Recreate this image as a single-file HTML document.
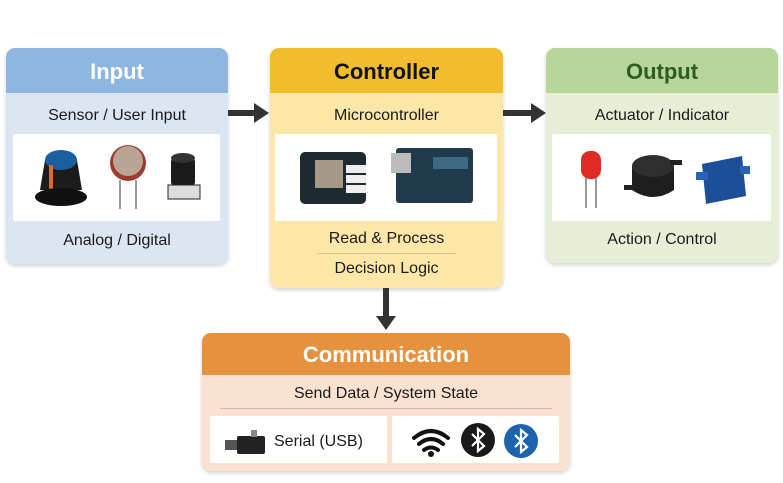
<!DOCTYPE html>
<html><head><meta charset="utf-8"><style>
body{margin:0;width:783px;height:483px;background:#fff;position:relative;overflow:hidden;font-family:"Liberation Sans","DejaVu Sans",sans-serif;color:#1a1a1a}
.box{position:absolute;border-radius:9px;overflow:hidden;box-shadow:0 2px 4px rgba(0,0,0,.18)}
.hd{position:absolute;left:0;right:0;top:0;text-align:center;font-weight:bold;font-size:22px}
.t{position:absolute;left:0;right:0;text-align:center;font-size:16px}
.w{position:absolute;background:#fff;border-radius:2px}
svg{position:absolute;left:0;top:0}
</style></head><body>
<!-- Input -->
<div class="box" style="left:6px;top:48px;width:222px;height:216px;background:#dce6f2">
 <div class="hd" style="height:45px;line-height:47px;background:#8db6e0;color:#fff">Input</div>
 <div class="t" style="top:59px">Sensor / User Input</div>
 <div class="w" style="left:7px;top:86px;width:207px;height:87px"></div>
 <div class="t" style="top:184px">Analog / Digital</div>
</div>
<!-- Controller -->
<div class="box" style="left:270px;top:48px;width:233px;height:240px;background:#fde7a8">
 <div class="hd" style="height:45px;line-height:47px;background:#f1bd2f;color:#111">Controller</div>
 <div class="t" style="top:59px">Microcontroller</div>
 <div class="w" style="left:5px;top:86px;width:222px;height:87px"></div>
 <div class="t" style="top:182px">Read &amp; Process</div>
 <div style="position:absolute;left:47px;width:139px;top:205px;border-top:1px solid #d8c48c"></div>
 <div class="t" style="top:212px">Decision Logic</div>
</div>
<!-- Output -->
<div class="box" style="left:546px;top:48px;width:232px;height:215px;background:#e6efd6">
 <div class="hd" style="height:45px;line-height:47px;background:#b6d69a;color:#2e5e1c">Output</div>
 <div class="t" style="top:59px">Actuator / Indicator</div>
 <div class="w" style="left:6px;top:86px;width:219px;height:87px"></div>
 <div class="t" style="top:183px">Action / Control</div>
</div>
<!-- Communication -->
<div class="box" style="left:202px;top:333px;width:368px;height:138px;background:#fbe2d0">
 <div class="hd" style="height:42px;line-height:43px;background:#e6913e;color:#fff">Communication</div>
 <div class="t" style="top:52px">Send Data / System State</div>
 <div style="position:absolute;left:18px;width:332px;top:75px;border-top:1px solid #d8b9a4"></div>
 <div class="w" style="left:8px;top:83px;width:177px;height:47px"></div>
 <div class="w" style="left:190px;top:83px;width:167px;height:47px"></div>
 <div style="position:absolute;left:72px;top:100px;font-size:16px">Serial (USB)</div>
</div>
<svg width="783" height="483">
 <rect x="228" y="110" width="28" height="6" fill="#333"/><polygon points="254,103 269,113 254,123" fill="#333"/>
 <rect x="503" y="110" width="30" height="6" fill="#333"/><polygon points="531,103 546,113 531,123" fill="#333"/>
 <rect x="383" y="288" width="6" height="30" fill="#333"/><polygon points="376,316 396,316 386,330" fill="#333"/>
 <path d="M40,190 L45,160 Q62,148 77,160 L82,190 Z" fill="#1c1c1c"/>
 <ellipse cx="61" cy="160" rx="16" ry="10" fill="#1b5fa0"/>
 <rect x="49" y="165" width="4" height="24" fill="#e46b1e"/>
 <ellipse cx="61" cy="197" rx="26" ry="9" fill="#111"/>
 <circle cx="128" cy="163" r="18" fill="#9d3a2c"/><circle cx="128" cy="161" r="15" fill="#b8a596"/>
 <line x1="120" y1="180" x2="120" y2="209" stroke="#999" stroke-width="2"/><line x1="136" y1="180" x2="136" y2="209" stroke="#999" stroke-width="2"/>
 <rect x="171" y="158" width="24" height="28" rx="4" fill="#1a1a1a"/><ellipse cx="183" cy="158" rx="12" ry="5" fill="#333"/>
 <rect x="168" y="185" width="32" height="14" fill="#ddd" stroke="#222"/>
 <rect x="300" y="152" width="66" height="52" rx="5" fill="#1d2a30"/>
 <rect x="315" y="160" width="28" height="28" fill="#a59a85"/>
 <rect x="346" y="165" width="20" height="8" fill="#eee"/><rect x="346" y="175" width="20" height="8" fill="#eee"/><rect x="346" y="185" width="20" height="8" fill="#eee"/>
 <rect x="396" y="148" width="77" height="55" rx="3" fill="#1f3a4c"/>
 <rect x="391" y="153" width="20" height="20" fill="#bbb"/>
 <rect x="433" y="157" width="35" height="12" fill="#3c6a84"/>
 <rect x="581" y="151" width="20" height="28" rx="9" fill="#e02a24"/>
 <line x1="586" y1="178" x2="586" y2="208" stroke="#999" stroke-width="2"/><line x1="596" y1="178" x2="596" y2="208" stroke="#999" stroke-width="2"/>
 <path d="M632,166 L632,190 Q653,204 674,190 L674,166 Z" fill="#1e1e1e"/>
 <ellipse cx="653" cy="166" rx="21" ry="11" fill="#2f2f2f"/>
 <rect x="624" y="185" width="12" height="5" fill="#222"/><rect x="670" y="160" width="12" height="5" fill="#222"/>
 <polygon points="702,164 742,156 746,196 706,204" fill="#1d4f99"/>
 <rect x="696" y="172" width="12" height="8" fill="#2a62b8"/><rect x="740" y="166" width="10" height="8" fill="#2a62b8"/>
 <rect x="237" y="436" width="28" height="18" rx="2" fill="#222"/><rect x="225" y="440" width="12" height="10" fill="#555"/><rect x="251" y="430" width="6" height="7" fill="#888"/>
 <g fill="none" stroke="#111" stroke-width="4" stroke-linecap="round">
  <path d="M414,438 Q431,424 448,438"/><path d="M419,444 Q431,434 443,444"/><path d="M424,450 Q431,445 438,450"/>
 </g>
 <circle cx="431" cy="454" r="3" fill="#111"/>
 <circle cx="478" cy="440" r="17" fill="#1a1a1a"/>
 <path d="M472,434 L484,446 L478,451 L478,429 L484,434 L472,446" fill="none" stroke="#fff" stroke-width="2.2"/>
 <circle cx="521" cy="441" r="17" fill="#1c64b0"/>
 <path d="M515,435 L527,447 L521,452 L521,430 L527,435 L515,447" fill="none" stroke="#fff" stroke-width="2.2"/>
</svg>
</body></html>
